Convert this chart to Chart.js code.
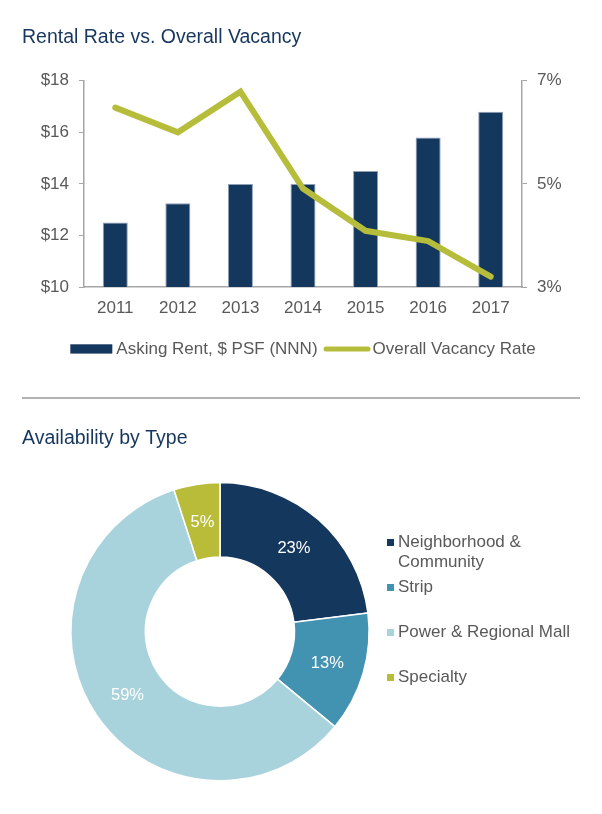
<!DOCTYPE html>
<html><head><meta charset="utf-8">
<script src="https://cdn.jsdelivr.net/npm/chart.js@4.4.1/dist/chart.umd.min.js"></script>
<style>
html,body{margin:0;padding:0;background:#fff;}
body{width:602px;height:814px;position:relative;overflow:hidden;}
#c1wrap{position:absolute;left:0;top:0;width:602px;height:385px;}
#c2wrap{position:absolute;left:0;top:400px;width:602px;height:414px;}
#sep{position:absolute;left:22px;top:397px;width:558px;height:2px;background:#b3b3b3;}
</style></head><body>
<div id="c1wrap"><canvas id="c1"></canvas></div>
<div id="sep"></div>
<div id="c2wrap"><canvas id="c2"></canvas></div>
<script>
// ---- data ----
const years = ['2011', '2012', '2013', '2014', '2015', '2016', '2017'];
const askingRent = [12.5, 13.25, 14.0, 14.0, 14.5, 15.8, 16.8];
const vacancyRate = [6.48, 6.0, 6.79, 4.91, 4.09, 3.89, 3.2];
const rentTickRange = [10, 18, 2];
const vacancyTickRange = [3, 7, 2];
const chart1Title = 'Rental Rate vs. Overall Vacancy';
const seriesNames = ['Asking Rent, $ PSF (NNN)', 'Overall Vacancy Rate'];

const types = ['Neighborhood & Community', 'Strip', 'Power & Regional Mall', 'Specialty'];
const availability = [23, 13, 59, 5];
const chart2Title = 'Availability by Type';

// ---- styles ----
const FAM = '"Liberation Sans", Arial, Helvetica, sans-serif';
const NAVY = '#14375e';
const OLIVE = '#b6bd3a';
const GREY_TXT = '#595959';
const AXIS = '#a6a6a6';
const sliceColors = ['#14375e', '#4292b1', '#a8d3dc', '#b8bc39'];

const topLegend = {
  id: 'topLegend',
  afterDraw(chart) {
    const ctx = chart.ctx, ca = chart.chartArea, ds = chart.data.datasets;
    ctx.save();
    ctx.font = '17px ' + FAM;
    ctx.textBaseline = 'middle';
    ctx.textAlign = 'left';
    const y = 349;
    const boxW = 42, gap1 = 4, gap2 = 6, lineW = 47, gap3 = 2;
    const w0 = ctx.measureText(ds[0].label).width, w1 = ctx.measureText(ds[1].label).width;
    const total = boxW + gap1 + w0 + gap2 + lineW + gap3 + w1;
    let x = (ca.left + ca.right) / 2 - total / 2;
    ctx.fillStyle = ds[0].backgroundColor;
    ctx.fillRect(x, y - 4.7, boxW, 9.3);
    x += boxW + gap1;
    ctx.fillStyle = GREY_TXT;
    ctx.fillText(ds[0].label, x, y);
    x += w0 + gap2;
    ctx.strokeStyle = ds[1].borderColor;
    ctx.lineWidth = 5;
    ctx.lineCap = 'round';
    ctx.beginPath();
    ctx.moveTo(x + 2.5, y);
    ctx.lineTo(x + lineW - 2.5, y);
    ctx.stroke();
    x += lineW + gap3;
    ctx.fillText(ds[1].label, x, y);
    ctx.restore();
  }
};

new Chart(document.getElementById('c1'), {
  type: 'bar',
  data: {
    labels: years,
    datasets: [
      { type: 'bar', label: seriesNames[0], data: askingRent, yAxisID: 'y',
        backgroundColor: NAVY, borderColor: '#8ea0b8', borderWidth: 1,
        barPercentage: 0.4, categoryPercentage: 1, order: 2 },
      { type: 'line', label: seriesNames[1], data: vacancyRate, yAxisID: 'y1',
        borderColor: OLIVE, backgroundColor: OLIVE, borderWidth: 6, pointRadius: 0,
        tension: 0, borderCapStyle: 'round', fill: false, order: 1 }
    ]
  },
  options: {
    responsive: true, maintainAspectRatio: false, animation: false,
    layout: { padding: { left: 22, right: 0, top: 0, bottom: 0 } },
    plugins: {
      legend: { display: false },
      tooltip: { enabled: false },
      title: { display: true, text: chart1Title, align: 'start', color: '#17375e',
        font: { size: 19.5, family: FAM, weight: 'normal' }, padding: { top: 26.3, bottom: 31.1 } }
    },
    scales: {
      x: {
        grid: { display: false, drawTicks: false },
        border: { display: true, color: AXIS, width: 1.5 },
        ticks: { color: GREY_TXT, font: { size: 17, family: FAM }, padding: 11, maxRotation: 0 },
        afterFit(s) { s.height = 98; }
      },
      y: {
        position: 'left', min: rentTickRange[0], max: rentTickRange[1],
        ticks: { stepSize: rentTickRange[2], callback: v => '$' + v, color: GREY_TXT,
          font: { size: 17, family: FAM }, padding: 10 },
        grid: { drawOnChartArea: false, drawTicks: true, tickLength: 5, color: AXIS },
        border: { display: true, color: AXIS, width: 1.5 },
        afterFit(s) { s.width = 62; }
      },
      y1: {
        position: 'right', min: vacancyTickRange[0], max: vacancyTickRange[1],
        ticks: { stepSize: vacancyTickRange[2], callback: v => v + '%', color: GREY_TXT,
          font: { size: 17, family: FAM }, padding: 10 },
        grid: { drawOnChartArea: false, drawTicks: true, tickLength: 5, color: AXIS },
        border: { display: true, color: AXIS, width: 1.5 },
        afterFit(s) { s.width = 80; }
      }
    }
  },
  plugins: [topLegend]
});

function wrapText(ctx, text, maxW) {
  const words = text.split(' ');
  const lines = [];
  let cur = '';
  words.forEach(w => {
    const t = cur ? cur + ' ' + w : w;
    if (ctx.measureText(t).width > maxW && cur) { lines.push(cur); cur = w; }
    else cur = t;
  });
  if (cur) lines.push(cur);
  return lines;
}

const donutLabels = {
  id: 'donutLabels',
  afterDatasetsDraw(chart) {
    const ctx = chart.ctx, meta = chart.getDatasetMeta(0);
    ctx.save();
    ctx.font = '16.5px ' + FAM;
    ctx.fillStyle = '#ffffff';
    ctx.textAlign = 'center';
    ctx.textBaseline = 'middle';
    meta.data.forEach((arc, i) => {
      const p = arc.tooltipPosition();
      ctx.fillText(chart.data.datasets[0].data[i] + '%', p.x, p.y + 1);
    });
    ctx.restore();
  }
};

const donutLegend = {
  id: 'donutLegend',
  afterDraw(chart) {
    const ctx = chart.ctx;
    ctx.save();
    ctx.font = '17px ' + FAM;
    ctx.textBaseline = 'middle';
    ctx.textAlign = 'left';
    const colors = chart.data.datasets[0].backgroundColor;
    const x0 = 387, tx = 398, maxW = 180, y0 = 142.5, step = 45, lh = 19.6;
    chart.data.labels.forEach((lab, i) => {
      const y = y0 + i * step;
      ctx.fillStyle = colors[i];
      ctx.fillRect(x0, y - 3.5, 7, 7);
      ctx.fillStyle = GREY_TXT;
      wrapText(ctx, lab, maxW).forEach((line, j) => ctx.fillText(line, tx, y + j * lh));
    });
    ctx.restore();
  }
};

new Chart(document.getElementById('c2'), {
  type: 'doughnut',
  data: {
    labels: types,
    datasets: [{ data: availability, backgroundColor: sliceColors, borderColor: '#ffffff', borderWidth: 1.5 }]
  },
  options: {
    responsive: true, maintainAspectRatio: false, animation: false,
    cutout: '50%',
    layout: { padding: { left: 22, right: 184, top: 0, bottom: 32.5 } },
    plugins: {
      legend: { display: false },
      tooltip: { enabled: false },
      title: { display: true, text: chart2Title, align: 'start', color: '#17375e',
        font: { size: 19.5, family: FAM, weight: 'normal' }, padding: { top: 26.6, bottom: 31.8 } }
    }
  },
  plugins: [donutLabels, donutLegend]
});
</script>
</body></html>
